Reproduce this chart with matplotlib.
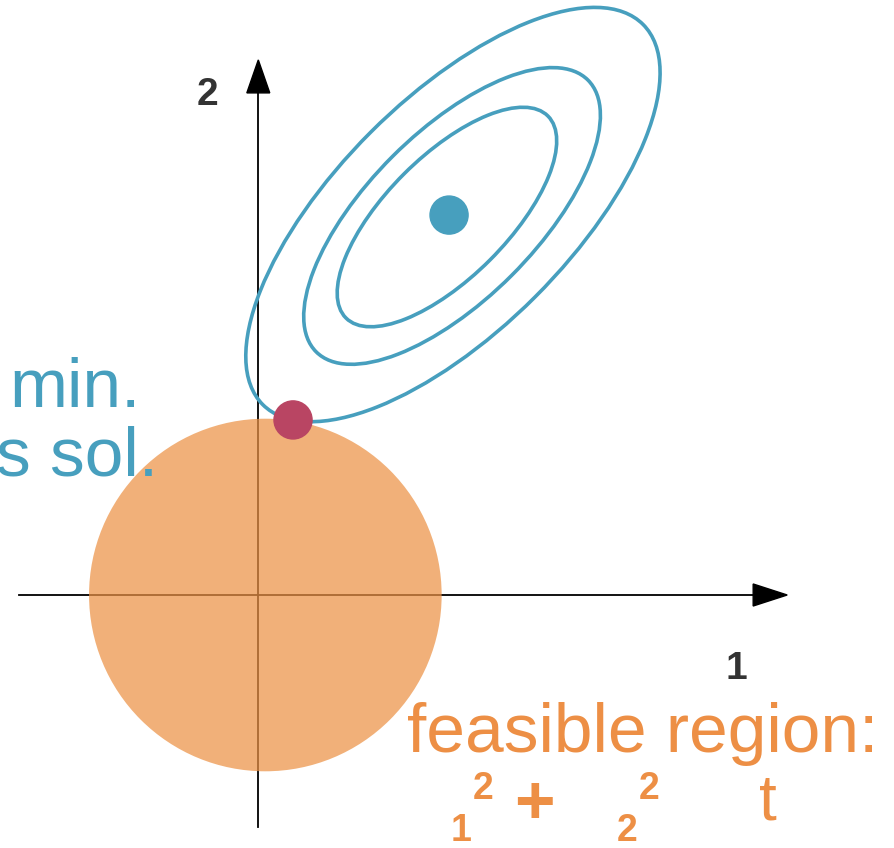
import numpy as np
import matplotlib
matplotlib.use("Agg")
import matplotlib.pyplot as plt
from matplotlib.patches import Circle, Ellipse, Polygon

plt.rcParams['font.family'] = ['Liberation Sans', 'DejaVu Sans']

# ---- data (units: radius of feasible circle = 1) ----
circle_center = (0.04, 0.0)
circle_radius = 1.0
ols_center = (1.082, 2.155)           # unconstrained minimum
ellipse_centers = [(1.070, 2.144), (1.099, 2.150), (1.104, 2.158)]
ellipse_widths = [1.62, 2.18, 3.05]   # full major axis
ellipse_heights = [0.69, 0.955, 1.32] # full minor axis
ellipse_angle = 45
ridge_point = (0.197, 0.993)          # constrained solution
dot_radius = 0.108
x_axis_range = (-1.357, 3.0)
y_axis_range = (-1.316, 3.035)

W, H = 895, 848
fig = plt.figure(figsize=(W / 100, H / 100), dpi=100)
ax = fig.add_axes([0, 0, 1, 1])
ax.set_xlim(-258.3 / 176.3, (W - 258.3) / 176.3)
ax.set_ylim(-(H - 595) / 176.3, 595 / 176.3)
ax.axis('off')

def px(x, y):
    return (x / W, 1 - y / H)

BLUE = '#479fbe'
ORANGE_FILL = '#ec9245'
ORANGE_TXT = '#ed8f45'
RED = '#b94563'
DARK = '#333333'

# axes with arrows
hl_x, hw_x = 0.193, 0.125
ax.plot([x_axis_range[0], x_axis_range[1] - hl_x], [0, 0], color='black', lw=1.3, zorder=1)
ax.add_patch(Polygon([[x_axis_range[1], 0], [x_axis_range[1] - hl_x, hw_x / 2],
                      [x_axis_range[1] - hl_x, -hw_x / 2]], closed=True, color='black', zorder=1))
hl_y, hw_y = 0.187, 0.13
ax.plot([0, 0], [y_axis_range[0], y_axis_range[1] - hl_y], color='black', lw=1.3, zorder=1)
ax.add_patch(Polygon([[0, y_axis_range[1]], [hw_y / 2, y_axis_range[1] - hl_y],
                      [-hw_y / 2, y_axis_range[1] - hl_y]], closed=True, color='black', zorder=1))

# feasible region
ax.add_patch(Circle(circle_center, circle_radius, facecolor=ORANGE_FILL, edgecolor='none',
                    alpha=0.72, zorder=3))

# contours
for c, w, h in zip(ellipse_centers, ellipse_widths, ellipse_heights):
    ax.add_patch(Ellipse(c, w, h, angle=ellipse_angle, fill=False,
                         edgecolor=BLUE, lw=2.6, zorder=4))

ax.add_patch(Circle(ols_center, dot_radius, color=BLUE, zorder=5))
ax.add_patch(Circle(ridge_point, dot_radius, color=RED, zorder=5))

# labels
fig.text(*px(197, 105), '2', fontsize=28, fontweight='bold', color=DARK, ha='left', va='baseline')
fig.text(*px(726, 679), '1', fontsize=28, fontweight='bold', color=DARK, ha='left', va='baseline')

fig.text(*px(141, 407), 'min.', fontsize=50, color=BLUE, ha='right', va='baseline', zorder=1)
fig.text(*px(158, 475), 's sol.', fontsize=50, color=BLUE, ha='right', va='baseline', zorder=1)

fig.text(*px(407, 752), 'feasible region:', fontsize=50, color=ORANGE_TXT, ha='left', va='baseline')
fig.text(*px(451, 841), '1', fontsize=27, fontweight='bold', color=ORANGE_TXT, ha='left', va='baseline')
fig.text(*px(473, 799), '2', fontsize=27, fontweight='bold', color=ORANGE_TXT, ha='left', va='baseline')
fig.text(*px(514, 823), '+', fontsize=50, fontweight='bold', color=ORANGE_TXT, ha='left', va='baseline')
fig.text(*px(617, 841), '2', fontsize=27, fontweight='bold', color=ORANGE_TXT, ha='left', va='baseline')
fig.text(*px(639, 799), '2', fontsize=27, fontweight='bold', color=ORANGE_TXT, ha='left', va='baseline')
fig.text(*px(759, 820), 't', fontsize=46, color=ORANGE_TXT, ha='left', va='baseline')

fig.savefig('out.png', dpi=100)
